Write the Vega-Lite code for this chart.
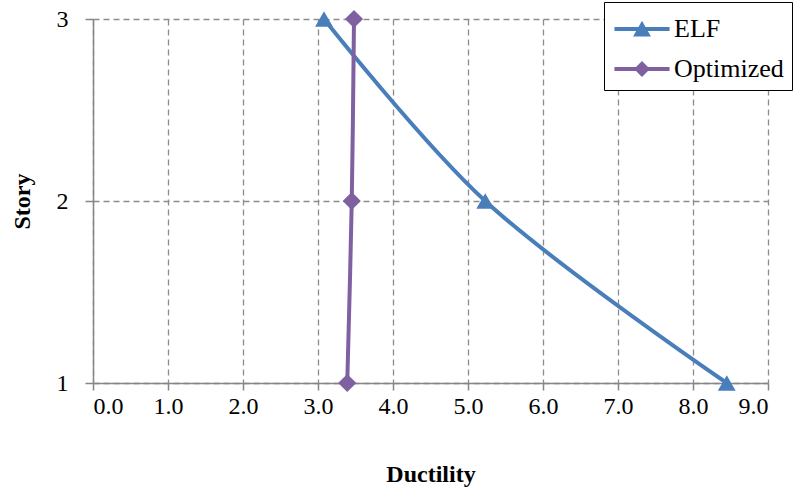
{
  "$schema": "https://vega.github.io/schema/vega-lite/v6.json",
  "width": 675,
  "height": 364,
  "autosize": {"type": "none"},
  "padding": {"left": 93, "top": 19, "right": 29, "bottom": 108},
  "background": "white",
  "config": {
    "font": "Liberation Serif",
    "view": {"stroke": null},
    "axis": {
      "labelFont": "Liberation Serif",
      "titleFont": "Liberation Serif",
      "labelFontSize": 24,
      "titleFontSize": 24,
      "labelColor": "black",
      "titleColor": "black",
      "domainColor": "#868686",
      "domainWidth": 1.5,
      "tickColor": "#868686",
      "tickWidth": 1.5,
      "gridColor": "#8c8c8c",
      "gridDash": [6, 4],
      "gridWidth": 1.3,
      "labelOverlap": false
    }
  },
  "data": {
    "values": [
      {"series": "ELF", "ductility": 8.45, "story": 1},
      {"series": "ELF", "ductility": 5.23, "story": 2},
      {"series": "ELF", "ductility": 3.08, "story": 3},
      {"series": "Optimized", "ductility": 3.39, "story": 1},
      {"series": "Optimized", "ductility": 3.45, "story": 2},
      {"series": "Optimized", "ductility": 3.48, "story": 3}
    ]
  },
  "encoding": {
    "x": {
      "field": "ductility",
      "type": "quantitative",
      "scale": {"domain": [0, 9], "nice": false, "zero": false},
      "axis": {
        "title": "Ductility",
        "values": [0, 1, 2, 3, 4, 5, 6, 7, 8, 9],
        "format": ".1f",
        "tickSize": 7,
        "labelPadding": 4,
        "titlePadding": 44,
        "grid": true
      }
    },
    "y": {
      "field": "story",
      "type": "quantitative",
      "scale": {"domain": [1, 3], "nice": false, "zero": false},
      "axis": {
        "title": "Story",
        "values": [1, 2, 3],
        "labelExpr": "'' + round(datum.value)",
        "tickSize": 8,
        "labelPadding": 17,
        "titlePadding": 22,
        "grid": true
      }
    },
    "color": {
      "field": "series",
      "type": "nominal",
      "scale": {"domain": ["ELF", "Optimized"], "range": ["#4a7ebb", "#7f60a0"]},
      "legend": {
        "title": null,
        "orient": "none",
        "legendX": 511,
        "legendY": -17,
        "strokeColor": "black",
        "fillColor": "white",
        "padding": 8,
        "labelFont": "Liberation Serif",
        "labelFontSize": 26,
        "labelColor": "black",
        "symbolType": "circle",
        "symbolSize": 1444,
        "symbolStrokeWidth": 0,
        "symbolOpacity": 1,
        "symbolOffset": 11,
        "rowPadding": 8,
        "labelOffset": 13,
        "encode": {
          "symbols": {
            "update": {
              "shape": {"signal": "datum.value === 'ELF' ? 'M-1.45,-0.105 L1.45,-0.105 L1.45,0.105 L-1.45,0.105 Z M-0.47,0.4 L0,-0.44 L0.47,0.4 Z' : 'M-1.45,-0.105 L1.45,-0.105 L1.45,0.105 L-1.45,0.105 Z M0,-0.42 L0.42,0 L0,0.42 L-0.42,0 Z'"},
              "strokeWidth": {"value": 0}
            }
          }
        }
      }
    }
  },
  "layer": [
    {
      "mark": {"type": "line", "strokeWidth": 4, "interpolate": "catmull-rom"},
      "encoding": {"order": {"field": "story", "type": "quantitative"}}
    },
    {
      "transform": [{"filter": "datum.series === 'ELF'"}],
      "mark": {"type": "point", "filled": true, "opacity": 1, "size": 320, "shape": "triangle-up"}
    },
    {
      "transform": [{"filter": "datum.series === 'Optimized'"}],
      "mark": {"type": "point", "filled": true, "opacity": 1, "size": 330, "shape": "diamond"}
    }
  ]
}
